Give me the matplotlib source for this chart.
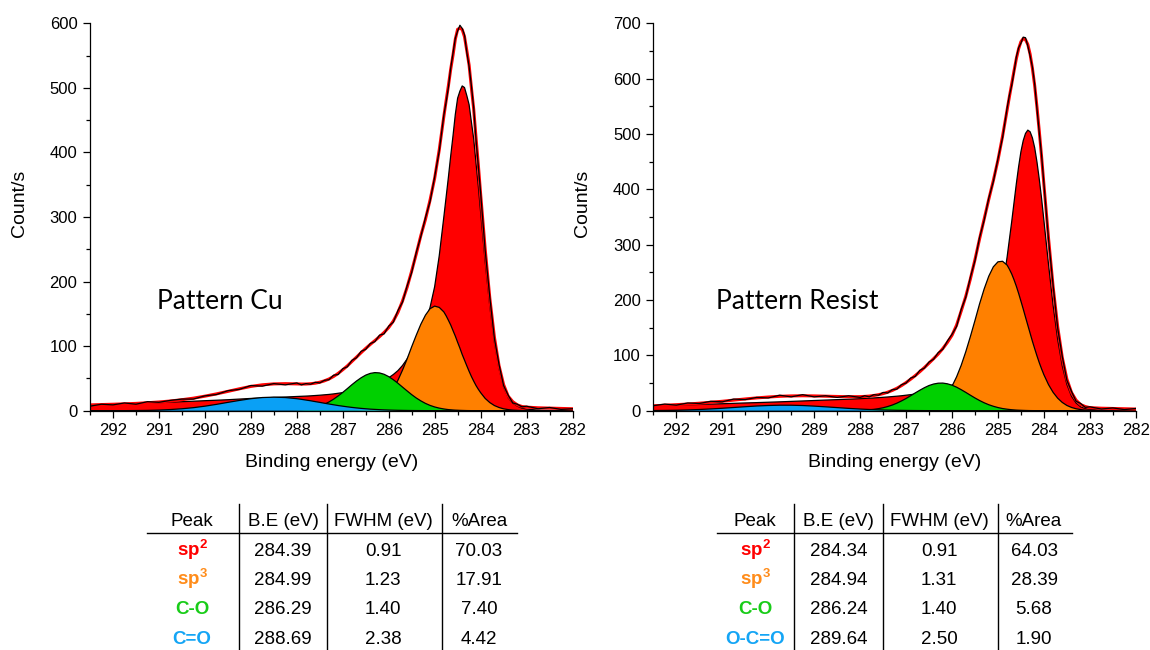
import numpy as np
import matplotlib
matplotlib.use("Agg")
import matplotlib.pyplot as plt
from matplotlib.lines import Line2D
from matplotlib.ticker import MultipleLocator, FormatStrFormatter

plt.rcParams['font.family'] = ['Liberation Sans', 'DejaVu Sans']
plt.rcParams['mathtext.fontset'] = 'custom'
plt.rcParams['mathtext.rm'] = 'Liberation Sans'
plt.rcParams['mathtext.bf'] = 'Liberation Sans:bold'

# binding energy sample points (eV), shared by both spectra
energy = [292.5, 292.25, 292.0, 291.75, 291.5, 291.25, 291.0, 290.75, 290.5,
          290.25, 290.0, 289.75, 289.5, 289.25, 289.0, 288.75, 288.5, 288.25,
          288.0, 287.9, 287.8, 287.7, 287.6, 287.5, 287.4, 287.3, 287.2, 287.1,
          287.0, 286.9, 286.8, 286.7, 286.6, 286.5, 286.4, 286.3, 286.2, 286.1,
          286.0, 285.9, 285.8, 285.7, 285.6, 285.5, 285.4, 285.3, 285.2, 285.1,
          285.0, 284.9, 284.8, 284.75, 284.7, 284.65, 284.6, 284.55, 284.5,
          284.45, 284.4, 284.35, 284.3, 284.25, 284.2, 284.15, 284.1, 284.05,
          284.0, 283.9, 283.8, 283.7, 283.6, 283.5, 283.4, 283.3, 283.2, 283.1,
          283.0, 282.75, 282.5, 282.25, 282.0]

# --- Pattern Cu (counts/s) ---
cu_sp2 = [9, 9.5, 10, 10.5, 11, 11.8, 12.5, 13.2, 14,
          14.7, 15.5, 16.2, 17, 18, 19, 19.7, 20.5, 21.2,
          22, 22.3, 22.6, 23, 23.5, 24, 24.6, 25.2, 26, 27,
          28, 29, 30.5, 32, 34, 36, 38.5, 41, 44, 47.5,
          51, 56, 62, 70, 80, 92, 106, 122, 137, 160,
          192, 240, 300, 331, 362, 395, 426, 459, 484,
          495, 503, 500.5, 488, 474, 447, 421, 384, 348,
          308, 231, 162, 106, 65, 37, 20, 12, 7, 4,
          2.5, 1, 0.5, 0.2, 0]
cu_sp3 = [0] * 18 + [0] * 10 + \
         [0.1, 0.2, 0.35, 0.7, 1.3, 2.4, 4, 6.6, 10.6, 16,
          24, 34, 47, 62.7, 80, 99, 117, 134, 148, 158,
          162, 160, 153, 147, 140, 132.7, 124, 115.5, 106,
          96.9, 87, 78.3, 69.5, 61, 53, 45.8, 39, 33.2,
          28, 19, 12.6, 8, 5, 2.9, 1.7, 0.9, 0.5, 0.2,
          0.1, 0, 0, 0, 0]
cu_co = [0] * 16 + [0.05, 0.25] + \
        [0.9, 1.4, 2.2, 3.4, 5.0, 7.2, 10.0, 13.5, 17.8, 22.8,
         28.3, 34.2, 40.3, 46, 51, 55.1, 57.8, 59, 58.5, 56.4,
         52.8, 48, 42.6, 36.6, 30.7, 24.9, 19.7, 15.2, 11.3, 8.2,
         5.8, 4.0, 2.7, 2.15, 1.7, 1.4, 1.1, 0.85, 0.7,
         0.52, 0.4, 0.3, 0.2, 0.15, 0.1, 0.07, 0.04, 0.02] + [0] * 15
cu_cdo = [0, 0.02, 0.05, 0.1, 0.26, 0.5, 1.0, 1.8, 3.0,
          4.7, 7.0, 9.8, 12.9, 15.9, 18.6, 20.4, 21, 20.4,
          18.6, 17.6, 16.5, 15.4, 14.1, 12.9, 11.6, 10.4, 9.2, 8.0,
          7.0, 6.0, 5.1, 4.3, 3.6, 3.0, 2.4, 2.0, 1.6, 1.25,
          1.0, 0.78, 0.6, 0.47, 0.36, 0.27, 0.2, 0.15, 0.11, 0.08,
          0.06, 0.04, 0.03, 0.025, 0.02, 0.015, 0.01, 0, 0] + [0] * 24
cu_envelope = [9, 9.5, 10, 10.6, 11.3, 12.3, 13.5, 15.0, 17.0,
               19.4, 22.5, 26.0, 29.9, 33.9, 37.6, 40.1, 41.5, 41.9,
               41.5, 41.3, 41.3, 41.8, 42.6, 44.1, 46.2, 49.1, 53.0, 57.8,
               63.4, 69.4, 76.3, 83.0, 89.9, 96.5, 102.7, 108.6, 114.7, 121.2,
               128.8, 138.8, 152.2, 169.8, 191, 216.2, 242.9, 271.4, 296.4, 326.2,
               359.9, 404, 455.7, 480.2, 503.7, 529.1, 551, 575.4, 590.7,
               592.4, 590.4, 579.1, 557.7, 535.2, 500, 466.9, 423, 381.2,
               336, 250, 174.6, 114, 70, 40.5, 22.5, 14, 9, 6.5,
               5.5, 4.5, 4, 3.5, 3]
cu_counts = [7, 10, 9, 12, 10, 14, 13, 16, 18,
             18, 23, 25, 31, 33, 39, 38, 42, 40,
             43, 40, 42, 41, 44, 43, 47, 48, 55, 56,
             65, 68, 78, 82, 92, 95, 104, 107, 117, 119,
             131, 137, 155, 168, 193, 214, 245, 270, 299, 324,
             362, 402, 458, 478, 501, 531, 554, 577, 588,
             597, 592, 582, 555, 533, 503, 469, 420, 379,
             338, 248, 176, 112, 72, 39, 24, 12, 10, 6,
             7, 3, 5, 2, 3]

# --- Pattern Resist ---
rs_sp2 = [8.6, 9.3, 10, 10.6, 11.3, 12, 12.6, 13.3, 14,
          14.6, 15.3, 16, 16.8, 17.6, 18.4, 19.2, 20, 20.8,
          21.8, 22.2, 22.6, 23.1, 23.6, 24.2, 24.8, 25.5, 26.2, 27,
          28, 29, 30, 31.5, 33, 35, 37, 39, 41.5, 44,
          46, 51, 60, 67, 76, 87, 99, 112, 128, 148,
          178, 222, 278, 310, 342, 376, 410, 441, 468,
          488, 501, 507, 504, 493, 475, 449, 418, 383,
          344, 265, 191, 129, 81, 47.7, 26.3, 14, 7, 4,
          2.5, 1, 0.5, 0.2, 0]
rs_sp3 = [0] * 18 + [0, 0, 0, 0, 0, 0, 0, 0, 0, 0.1] + \
         [0.3, 0.5, 1.0, 1.8, 3.2, 5.3, 8.7, 13.6, 20.8, 30.8,
          44.1, 61.2, 82, 106.6, 134, 163, 193, 220, 243, 260,
          269, 270, 263, 255.5, 247, 236.6, 225, 212, 198,
          183.8, 169, 154.5, 140, 125.5, 112, 98.9, 86.6, 75.4,
          65, 47.2, 33.2, 22.6, 14.9, 9.5, 5.9, 3.5, 2.0, 1.0,
          0.5, 0, 0, 0, 0]
rs_co = [0] * 16 + [0.05, 0.17] + \
        [0.6, 1.0, 1.6, 2.5, 3.7, 5.3, 7.5, 10.2, 13.6, 17.6,
         22, 27, 32.1, 37, 41.6, 45.5, 48.2, 49.7, 49.9, 48.6,
         46.1, 42.5, 38, 33.1, 28, 23, 18.4, 14.3, 10.8, 8.0,
         5.7, 3.9, 2.7, 2.2, 1.75, 1.4, 1.1, 0.88, 0.7,
         0.55, 0.4, 0.3, 0.2, 0.15, 0.1, 0.07, 0.04, 0.02] + [0] * 15
rs_ocdo = [0.27, 0.5, 0.85, 1.4, 2.15, 3.2, 4.4, 5.8, 7.2,
           8.5, 9.4, 9.95, 9.9, 9.35, 8.3, 7.0, 5.6, 4.2,
           3.0, 2.6, 2.2, 1.9, 1.6, 1.3, 1.1, 0.9, 0.7, 0.6,
           0.45, 0.36, 0.28, 0.22, 0.17, 0.13, 0.1, 0.07, 0.05, 0.04,
           0.03, 0.02, 0.01, 0, 0, 0, 0, 0, 0, 0] + [0] * 33
rs_envelope = [8.9, 9.8, 10.9, 12.0, 13.5, 15.2, 17.0, 19.1, 21.2,
               23.1, 24.7, 26.0, 26.7, 27.0, 26.7, 26.2, 25.7, 25.2,
               25.4, 25.8, 26.4, 27.5, 28.9, 30.8, 33.4, 36.6, 40.5, 45.3,
               50.8, 56.9, 63.4, 70.5, 78.0, 85.9, 94.0, 102.4, 112.3, 123.4,
               136.2, 154.7, 180, 206.7, 238, 273, 310.4, 346.3, 381.8, 416,
               452.7, 495.9, 543.7, 567.7, 590.8, 614, 636, 653.9, 666.7,
               672.4, 670.4, 661.8, 644.2, 618.7, 587, 548, 504.6, 458.4,
               409, 312.2, 224.2, 151.6, 95.9, 57.2, 33, 19, 11, 7.5,
               5.5, 4.5, 4, 3.5, 3]
rs_counts = [9, 12, 10, 14, 13, 17, 16, 21, 20,
             24, 23, 28, 25, 29, 25, 27, 24, 27,
             24, 27, 25, 29, 28, 33, 32, 38, 39, 47,
             50, 59, 62, 73, 77, 88, 93, 105, 111, 126,
             138, 152, 183, 205, 241, 271, 313, 344, 384, 414,
             455, 493, 547, 570, 588, 612, 639, 656, 664,
             675, 674, 659, 641, 621, 590, 545, 502, 461,
             411, 310, 227, 149, 98, 55, 35, 17, 13, 6,
             7, 3, 5, 2, 4]

# --- fit tables ---
table_header = ['Peak', 'B.E (eV)', 'FWHM (eV)', '%Area']
cu_peaks = [r'$\mathbf{sp^{2}}$', r'$\mathbf{sp^{3}}$', 'C-O', 'C=O']
cu_be = [284.39, 284.99, 286.29, 288.69]
cu_fwhm = [0.91, 1.23, 1.40, 2.38]
cu_area = [70.03, 17.91, 7.40, 4.42]
rs_peaks = [r'$\mathbf{sp^{2}}$', r'$\mathbf{sp^{3}}$', 'C-O', 'O-C=O']
rs_be = [284.34, 284.94, 286.24, 289.64]
rs_fwhm = [0.91, 1.31, 1.40, 2.50]
rs_area = [64.03, 28.39, 5.68, 1.90]

RED = '#ff0000'
ORANGE = '#ff8000'
GREEN = '#00d000'
BLUE = '#0aa0f5'
label_colors = ['#ff0000', '#ff8c1a', '#19cc19', '#14a5f5']

W, H = 1150, 650
fig = plt.figure(figsize=(W / 100, H / 100), dpi=100)


def add_panel(left_px, sp2, sp3, co, cx, envelope, counts, ymax, title, title_xy):
    ax = fig.add_axes([left_px / W, 1 - 410.7 / H, 482.5 / W, 387.4 / H])
    x = np.array(energy)
    # fitted components, drawn in the same order as the original fit plot
    for i, (y, color) in enumerate(((sp2, RED), (sp3, ORANGE), (co, GREEN), (cx, BLUE))):
        ax.fill_between(x, 0, y, facecolor=color, edgecolor='none', zorder=2 + i)
        ax.plot(x, y, color='black', lw=0.9, zorder=2.5 + i)
    ax.plot(x, envelope, color=RED, lw=2.2, zorder=10)
    ax.plot(x, counts, color='black', lw=0.9, zorder=11)

    ax.set_xlim(292.5, 282)
    ax.set_ylim(0, ymax)
    ax.xaxis.set_major_locator(MultipleLocator(1))
    ax.xaxis.set_minor_locator(MultipleLocator(0.5))
    ax.xaxis.set_major_formatter(FormatStrFormatter('%d'))
    ax.yaxis.set_major_locator(MultipleLocator(100))
    ax.yaxis.set_minor_locator(MultipleLocator(50))
    for side in ('top', 'right'):
        ax.spines[side].set_visible(False)
    for side in ('left', 'bottom'):
        ax.spines[side].set_linewidth(0.9)
        ax.spines[side].set_zorder(20)
    ax.tick_params(which='major', direction='out', length=5, width=0.9,
                   labelsize=12, pad=4)
    ax.tick_params(which='minor', direction='out', length=3, width=0.9)
    ax.set_xlabel('Binding energy (eV)', fontsize=14)
    ax.xaxis.set_label_coords(0.5, -0.112)
    ax.set_ylabel('Count/s', fontsize=14)
    ax.yaxis.set_label_coords(-0.129, 0.535)
    ax.text(title_xy[0], title_xy[1], title, family=['Lato', 'DejaVu Sans'],
            fontsize=19, ha='left', va='baseline', zorder=12)
    return ax


def add_table(x_left, x_right, col_lines, col_centers, peaks, be, fwhm, area):
    fig.add_artist(Line2D([x_left / W, x_right / W], [1 - 533 / H] * 2,
                          color='black', lw=1.0))
    for xl in col_lines:
        fig.add_artist(Line2D([xl / W] * 2, [1 - 504 / H, 0], color='black', lw=1.0))
    for cx, text in zip(col_centers, table_header):
        fig.text(cx / W, 1 - 526 / H, text, ha='center', va='baseline', fontsize=13.5)
    rows_y = [555.5, 585, 614.5, 644]
    for i, name in enumerate(peaks):
        yb = 1 - rows_y[i] / H
        fig.text(col_centers[0] / W, yb, name, ha='center', va='baseline',
                 fontsize=13.5, fontweight='bold', color=label_colors[i])
        for cx, val in zip(col_centers[1:], (be[i], fwhm[i], area[i])):
            fig.text(cx / W, yb, f'{val:.2f}', ha='center', va='baseline', fontsize=13.5)


add_panel(90, cu_sp2, cu_sp3, cu_co, cu_cdo, cu_envelope, cu_counts, 600,
          'Pattern Cu', (291.04, 157))
add_panel(653.3, rs_sp2, rs_sp3, rs_co, rs_ocdo, rs_envelope, rs_counts, 700,
          'Pattern Resist', (291.13, 183))

add_table(147, 517, [239, 327, 442], [192, 283, 383, 479],
          cu_peaks, cu_be, cu_fwhm, cu_area)
add_table(717, 1072, [794, 883, 998], [755, 838.5, 939, 1034],
          rs_peaks, rs_be, rs_fwhm, rs_area)

fig.savefig('out.png', dpi=100)
